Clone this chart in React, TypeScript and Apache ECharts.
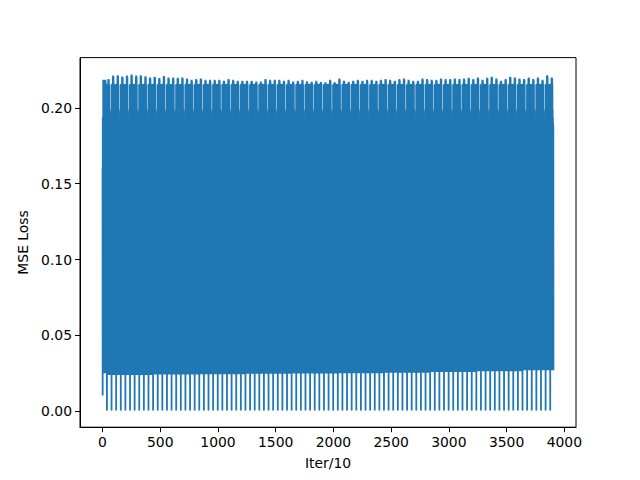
import React, { useEffect, useRef } from "react";
import * as echarts from "echarts";

// ---- data ----
const xTicks = [0, 500, 1000, 1500, 2000, 2500, 3000, 3500, 4000];
const yTicks = [0, 0.05, 0.1, 0.15, 0.2];
const lastIter = 3906;
const cycleLength = 40;

// first partial epoch (Iter/10 = 0 .. 37)
const startValues = [
  0.160, 0.0105, 0.194, 0.030, 0.190, 0.026, 0.2184, 0.025, 0.2184, 0.026,
  0.2184, 0.025, 0.2180, 0.026, 0.2155, 0.025, 0.2150, 0.026, 0.2150, 0.025,
  0.2120, 0.026, 0.2120, 0.025, 0.2184, 0.026, 0.2180, 0.025, 0.2155, 0.026,
  0.2150, 0.025, 0.2155, 0.026, 0.2150, 0.025, 0.2152, 0.026,
];

// peak loss of every epoch
const cyclePeaks = [
  0.2190, 0.2212, 0.2214, 0.2206, 0.2213, 0.2220, 0.2212, 0.2214, 0.2208, 0.2200,
  0.2205, 0.2196, 0.2210, 0.2200, 0.2200, 0.2198, 0.2200, 0.2193, 0.2184, 0.2189,
  0.2193, 0.2184, 0.2184, 0.2184, 0.2184, 0.2178, 0.2189, 0.2184, 0.2178, 0.2178,
  0.2178, 0.2178, 0.2173, 0.2173, 0.2189, 0.2184, 0.2184, 0.2184, 0.2178, 0.2184,
  0.2173, 0.2178, 0.2184, 0.2175, 0.2172, 0.2178, 0.2170, 0.2168, 0.2184, 0.2168,
  0.2193, 0.2178, 0.2172, 0.2178, 0.2184, 0.2178, 0.2184, 0.2184, 0.2178, 0.2184,
  0.2189, 0.2184, 0.2178, 0.2189, 0.2193, 0.2184, 0.2178, 0.2178, 0.2193, 0.2189,
  0.2184, 0.2184, 0.2193, 0.2189, 0.2189, 0.2193, 0.2189, 0.2193, 0.2198, 0.2189,
  0.2200, 0.2184, 0.2198, 0.2205, 0.2193, 0.2178, 0.2189, 0.2205, 0.2200, 0.2193,
  0.2189, 0.2200, 0.2189, 0.2200, 0.2184, 0.2215, 0.2200, 0.2205,
];

// lowest "band" loss, one value per 10 epochs
const lowFloor = [0.0240, 0.0242, 0.0245, 0.0247, 0.0249, 0.0251, 0.0254, 0.0259, 0.0264, 0.0270];

// within-epoch high values (odd steps 1..39)
const cycleHighs = [
  0.2155, 0.2150, 0.2158, 0.2152, 0.2156, 0.2150, 0.2157, 0.2153, 0.2155, 0.2151,
  0.2156, 0.2152, 0.2155, 0.2150, 0.2157, 0.2153, 0.2155, 0.2151, 0.2156, 0.2152,
];
// within-epoch low values above the floor (even steps 2..38)
const cycleLowOffsets = [
  0.0015, 0, 0.0008, 0, 0.0004, 0, 0.0010, 0, 0.0003, 0,
  0.0006, 0, 0.0002, 0, 0.0009, 0, 0.0004, 0, 0.0012,
];
// high values in the lighter notch, every other epoch (steps 21..37)
const gapHighs = [0.199, 0.194, 0.190, 0.188, 0.187, 0.188, 0.190, 0.193, 0.198];
const dipValue = 0.0006;

function buildSeries(): [number, number][] {
  const pts: [number, number][] = [];
  startValues.forEach((v, i) => pts.push([i, v]));
  let x0 = startValues.length;
  let n = 0;
  while (x0 <= lastIter) {
    const cyc: number[] = new Array(cycleLength);
    cyc[0] = dipValue;
    for (let j = 0; j < 20; j++) cyc[2 * j + 1] = cycleHighs[j];
    const floor = lowFloor[Math.min(lowFloor.length - 1, Math.floor(n / 10))];
    for (let j = 0; j < 19; j++) cyc[2 * j + 2] = floor + cycleLowOffsets[j];
    const p = cyclePeaks[Math.min(cyclePeaks.length - 1, n)];
    cyc[11] = p - 0.0006;
    cyc[13] = p;
    cyc[15] = p - 0.0002;
    cyc[17] = p - 0.001;
    if (n % 2 === 0) {
      for (let j = 0; j < gapHighs.length; j++) cyc[21 + 2 * j] = gapHighs[j];
    }
    for (let k = 0; k < cycleLength; k++) {
      if (x0 + k <= lastIter) pts.push([x0 + k, cyc[k]]);
    }
    x0 += cycleLength;
    n++;
  }
  return pts;
}

const FONT = "DejaVu Sans";

export default function App() {
  const ref = useRef<HTMLDivElement>(null);
  useEffect(() => {
    if (!ref.current) return;
    const chart = echarts.init(ref.current, undefined, { renderer: "svg" });
    const data = buildSeries();
    const xmin = -0.05 * lastIter;
    const xmax = 1.05 * lastIter;
    const dmin = dipValue;
    const dmax = Math.max(...cyclePeaks);
    const ymin = dmin - 0.05 * (dmax - dmin);
    const ymax = dmax + 0.05 * (dmax - dmin);
    chart.setOption({
      animation: false,
      backgroundColor: "#ffffff",
      grid: {
        left: 80,
        right: 64,
        top: 57.6,
        bottom: 52.8,
        show: true,
        borderColor: "#000",
        borderWidth: 1,
        backgroundColor: "transparent",
      },
      xAxis: {
        type: "value",
        min: xmin,
        max: xmax,
        name: "Iter/10",
        nameLocation: "middle",
        nameGap: 29,
        nameTextStyle: { fontFamily: FONT, fontSize: 13.9, color: "#000" },
        axisLine: { show: true, onZero: false, lineStyle: { color: "#000", width: 1 } },
        axisTick: { show: true, inside: false, length: 5, lineStyle: { color: "#000" }, customValues: xTicks },
        axisLabel: {
          show: true,
          margin: 8,
          fontFamily: FONT,
          fontSize: 13.9,
          color: "#000",
          customValues: xTicks,
          formatter: (v: number) => String(Math.round(v)),
        },
        splitLine: { show: false },
      },
      yAxis: {
        type: "value",
        min: ymin,
        max: ymax,
        name: "MSE Loss",
        nameLocation: "middle",
        nameGap: 47,
        nameRotate: 90,
        nameTextStyle: { fontFamily: FONT, fontSize: 13.9, color: "#000" },
        axisLine: { show: true, onZero: false, lineStyle: { color: "#000", width: 1 } },
        axisTick: { show: true, inside: false, length: 5, lineStyle: { color: "#000" }, customValues: yTicks },
        axisLabel: {
          show: true,
          margin: 8,
          fontFamily: FONT,
          fontSize: 13.9,
          color: "#000",
          customValues: yTicks,
          formatter: (v: number) => v.toFixed(2),
        },
        splitLine: { show: false },
      },
      series: [
        {
          type: "line",
          data,
          showSymbol: false,
          symbol: "none",
          lineStyle: { color: "#1f77b4", width: 1.8 },
          emphasis: { disabled: true },
          silent: true,
          clip: true,
        },
      ],
    });
    return () => chart.dispose();
  }, []);
  return (
    <div
      ref={ref}
      style={{ position: "fixed", left: 0, top: 0, width: 640, height: 480, background: "#fff" }}
    />
  );
}
